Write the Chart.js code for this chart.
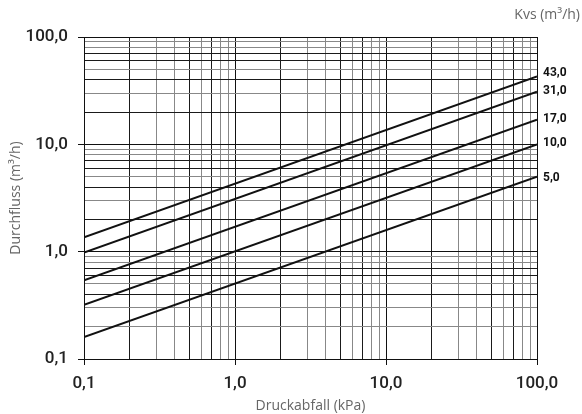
<!DOCTYPE html>
<html>
<head>
<meta charset="utf-8">
<script src="https://cdn.jsdelivr.net/npm/chart.js@4.4.0/dist/chart.umd.min.js"></script>
<style>
  html, body { margin: 0; padding: 0; background: #fff; }
  #wrap { width: 582px; height: 414px; }
</style>
</head>
<body>
<div id="wrap"><canvas id="kvs-chart"></canvas></div>
<script>
// Durchfluss vs. Druckabfall, one line per Kvs value
const pressureDrop = [0.1, 100];       // kPa
const kvsLabels = ['43,0', '31,0', '17,0', '10,0', '5,0'];
const flow43 = [1.36, 43];
const flow31 = [0.98, 31];
const flow17 = [0.54, 17];
const flow10 = [0.32, 10];
const flow5 = [0.16, 5];
const majorTicks = [0.1, 1, 10, 100];
const majorTickLabels = ['0,1', '1,0', '10,0', '100,0'];

const series = [flow43, flow31, flow17, flow10, flow5];

function logTicks(min, max) {
    const out = [];
    for (let d = min; d < max; d *= 10) {
        for (let m = 1; m < 10; m++) out.push({ value: +(d * m).toPrecision(3) });
    }
    out.push({ value: max });
    return out;
}

function majorIndex(v) {
    return majorTicks.findIndex(t => Math.abs(t - v) < t * 1e-6);
}

// some grid lines are printed darker than others
const darkX = [0.2, 0.5, 0.7, 2, 5, 7, 20, 50, 70];
const darkY = [0.4, 0.6, 0.7, 2, 4, 6, 7, 20, 40, 60, 70];

function gridColor(dark) {
    return ctx => {
        const v = ctx.tick ? ctx.tick.value : null;
        if (v === null) return '#000';
        if (majorIndex(v) >= 0) return '#111';
        return dark.some(t => Math.abs(t - v) < t * 1e-6) ? '#1a1a1a' : '#888';
    };
}

const endLabels = {
    id: 'endLabels',
    afterDatasetsDraw(chart) {
        const c = chart.ctx;
        const x = chart.scales.x;
        const y = chart.scales.y;
        c.save();
        c.font = 'bold 12px Roboto';
        c.fillStyle = '#111';
        c.textBaseline = 'middle';
        const offsets = [-3, -1, -1, -1, 1];
        series.forEach((s, i) => {
            c.fillText(kvsLabels[i], x.right + 6, y.getPixelForValue(s[1]) + offsets[i]);
        });
        c.font = '14px "Open Sans"';
        c.fillStyle = '#666';
        c.textAlign = 'right';
        c.fillText('Kvs (m³/h)', 580, 15);
        c.restore();
    }
};

const tickFont = { family: 'Roboto', size: 17, weight: '500' };
const titleFont = { family: 'Open Sans', size: 14 };

new Chart(
    document.getElementById('kvs-chart'),
    {
        type: 'line',
        data: {
            datasets: series.map((s, i) => ({
                label: kvsLabels[i],
                data: pressureDrop.map((p, j) => ({ x: p, y: s[j] })),
                borderColor: '#111',
                borderWidth: 2,
                pointRadius: 0,
                fill: false
            }))
        },
        options: {
            responsive: true,
            maintainAspectRatio: false,
            animation: false,
            layout: { padding: { top: 37, right: 45, left: 0, bottom: 0 } },
            plugins: {
                legend: { display: false },
                tooltip: { enabled: false }
            },
            scales: {
                x: {
                    type: 'logarithmic',
                    min: 0.1,
                    max: 100,
                    afterBuildTicks: axis => { axis.ticks = logTicks(0.1, 100); },
                    afterFit: axis => { axis.height = 55; },
                    ticks: {
                        autoSkip: false,
                        maxRotation: 0,
                        padding: 9,
                        color: '#222',
                        font: tickFont,
                        callback: v => majorIndex(v) >= 0 ? majorTickLabels[majorIndex(v)] : ''
                    },
                    grid: {
                        color: gridColor(darkX),
                        lineWidth: 1,
                        tickLength: 6,
                        tickColor: ctx => majorIndex(ctx.tick.value) >= 0 ? '#111' : 'rgba(0,0,0,0)'
                    },
                    border: { color: '#111', width: 1 },
                    title: {
                        display: true,
                        text: 'Druckabfall (kPa)',
                        color: '#666',
                        font: titleFont,
                        padding: { top: 1, bottom: 0 }
                    }
                },
                y: {
                    type: 'logarithmic',
                    min: 0.1,
                    max: 100,
                    afterBuildTicks: axis => { axis.ticks = logTicks(0.1, 100); },
                    afterFit: axis => { axis.width = 84; },
                    ticks: {
                        autoSkip: false,
                        padding: 10,
                        color: '#222',
                        font: tickFont,
                        callback: v => majorIndex(v) >= 0 ? majorTickLabels[majorIndex(v)] : ''
                    },
                    grid: {
                        color: gridColor(darkY),
                        lineWidth: 1,
                        tickLength: 6,
                        tickColor: ctx => majorIndex(ctx.tick.value) >= 0 ? '#111' : 'rgba(0,0,0,0)'
                    },
                    border: { color: '#111', width: 1 },
                    title: {
                        display: true,
                        text: 'Durchfluss (m³/h)',
                        color: '#666',
                        font: titleFont,
                        padding: { top: 8, bottom: 0 }
                    }
                }
            }
        },
        plugins: [endLabels]
    }
)
</script>
</body>
</html>
